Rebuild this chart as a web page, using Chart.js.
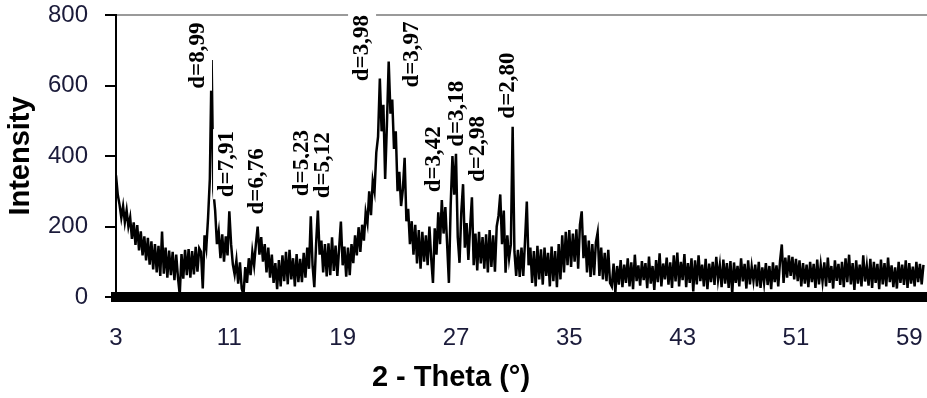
<!DOCTYPE html>
<html>
<head>
<meta charset="utf-8">
<script src="https://cdn.jsdelivr.net/npm/chart.js@4.4.1/dist/chart.umd.min.js"></script>
<style>
  html, body { margin: 0; padding: 0; background: #fff; }
</style>
</head>
<body>
<canvas id="grafico" width="927" height="398"></canvas>
<script>
// barrido 2-Theta: angulo inicial y paso entre lecturas
const thetaInicio = 3;
const thetaPaso = 0.125;

const intensidad = [
  345, 290, 262, 225, 258, 212, 246, 200,
  226, 165, 212, 148, 204, 132, 186, 118,
  172, 104, 168, 92, 158, 78, 150, 70,
  145, 60, 186, 66, 140, 55, 132, 62,
  128, 48, 120, 55, 6, 122, 52, 134,
  62, 136, 55, 130, 64, 142, 72, 138,
  128, 24, 175, 140, 225, 335, 672, 300,
  245, 150, 185, 110, 178, 100, 172, 118,
  243, 150, 92, 64, 104, 38, 98, 24,
  6, 85, 40, 110, 62, 128, 90, 150,
  200, 120, 170, 100, 150, 70, 140, 55,
  120, 40, 96, 22, 105, 30, 118, 45,
  128, 36, 134, 50, 110, 30, 122, 42,
  108, 42, 125, 55, 140, 80, 229, 90,
  28, 150, 245, 120, 160, 70, 150, 58,
  152, 62, 169, 74, 146, 60, 138, 214,
  90, 143, 58, 140, 62, 150, 96, 175,
  118, 198, 128, 205, 160, 240, 210, 300,
  232, 330, 300, 410, 455, 620, 470, 545,
  335, 490, 668, 520, 560, 420, 470, 300,
  355, 258, 305, 395, 215, 250, 150, 215,
  120, 205, 95, 190, 80, 185, 100, 175,
  90, 200, 110, 40, 195, 120, 240, 150,
  275, 180, 255, 150, 40, 260, 400, 290,
  406, 170, 97, 240, 320, 140, 210, 105,
  200, 283, 90, 180, 75, 185, 95, 170,
  80, 178, 70, 190, 85, 175, 72, 200,
  230, 291, 150, 245, 69, 175, 110, 150,
  483, 130, 60, 134, 57, 140, 60, 160,
  271, 90, 140, 40, 130, 30, 145, 50,
  135, 35, 140, 60, 125, 30, 143, 45,
  130, 28, 150, 50, 175, 70, 185, 90,
  190, 85, 180, 100, 192, 80, 205, 243,
  110, 175, 70, 160, 57, 150, 62, 155,
  183, 60, 140, 50, 125, 45, 134, 40,
  30, 95, 12, 88, 35, 105, 28, 92,
  40, 110, 30, 98, 22, 120, 45, 90,
  32, 102, 48, 96, 25, 115, 38, 88,
  20, 105, 42, 124, 30, 95, 50, 112,
  35, 98, 26, 118, 44, 126, 30, 100,
  48, 122, 28, 96, 40, 110, 16, 104,
  36, 118, 45, 92, 30, 108, 22, 95,
  42, 100, 34, 114, 50, 90, 28, 106,
  38, 96, 26, 102, 8, 98, 40, 88,
  30, 110, 44, 94, 24, 104, 36, 86,
  46, 92, 30, 100, 26, 84, 40, 96,
  34, 88, 22, 98, 42, 90, 30, 102,
  149, 40, 112, 55, 118, 60, 114, 50,
  108, 45, 104, 30, 96, 38, 92, 28,
  100, 42, 94, 26, 106, 36, 90, 44,
  98, 30, 112, 40, 88, 24, 104, 46,
  94, 34, 100, 28, 110, 42, 120, 36,
  96, 20, 104, 38, 92, 30, 118, 44,
  88, 32, 108, 26, 100, 40, 94, 22,
  106, 36, 96, 30, 112, 42, 90, 28,
  84, 24, 100, 40, 92, 34, 104, 26,
  96, 38, 86, 30, 100, 42, 94, 36,
  91
];

const ticksX = [3, 11, 19, 27, 35, 43, 51, 59];
const ticksY = [0, 200, 400, 600, 800];

// etiquetas de distancia interplanar (texto, 2-Theta y altura del pie de la etiqueta)
const picosTexto = ['d=8,99', 'd=7,91', 'd=6,76', 'd=5,23', 'd=5,12', 'd=3,98', 'd=3,97', 'd=3,42', 'd=3,18', 'd=2,98', 'd=2,80'];
const picosTheta = [8.79, 10.84, 12.96, 16.14, 17.62, 20.37, 23.9, 25.46, 27.08, 28.56, 30.68];
const picosAltura = [591, 283, 234, 286, 280, 612, 594, 297, 426, 326, 506];

const puntos = intensidad.map((v, i) => ({ x: thetaInicio + i * thetaPaso, y: v }));

// dibuja las etiquetas "d=" giradas sobre cada pico
const etiquetasPicos = {
  id: 'etiquetasPicos',
  afterDatasetsDraw(chart) {
    const { ctx, scales: { x, y } } = chart;
    ctx.save();
    ctx.font = 'bold 23px "Liberation Serif", "Times New Roman", serif';
    ctx.textAlign = 'left';
    ctx.textBaseline = 'middle';
    picosTexto.forEach((txt, i) => {
      const px = x.getPixelForValue(picosTheta[i]);
      const py = y.getPixelForValue(picosAltura[i]);
      const w = ctx.measureText(txt).width;
      ctx.save();
      ctx.translate(px, py);
      ctx.rotate(-Math.PI / 2);
      ctx.fillStyle = '#fff';
      ctx.fillRect(-2, -14, w + 4, 28);
      ctx.fillStyle = '#000';
      ctx.fillText(txt, 0, 0);
      ctx.restore();
    });
    ctx.restore();
  }
};

// titulo del eje X (en el original no esta centrado en el area)
const tituloX = {
  id: 'tituloX',
  afterDraw(chart) {
    const { ctx, chartArea } = chart;
    ctx.save();
    ctx.font = 'bold 29px "Liberation Sans", Arial, sans-serif';
    ctx.fillStyle = '#000';
    ctx.textAlign = 'center';
    ctx.textBaseline = 'middle';
    ctx.fillText('2 - Theta (°)', chartArea.left + 335, 378);
    ctx.restore();
  }
};

new Chart(document.getElementById('grafico'), {
  type: 'line',
  data: {
    datasets: [{
      data: puntos,
      borderColor: '#000',
      borderWidth: 2.5,
      pointRadius: 0,
      tension: 0,
      fill: false
    }]
  },
  options: {
    responsive: false,
    animation: false,
    devicePixelRatio: 1,
    layout: { padding: { top: 15, right: 0, left: 0, bottom: 0 } },
    plugins: {
      legend: { display: false },
      tooltip: { enabled: false }
    },
    scales: {
      x: {
        type: 'linear',
        min: 3,
        max: 60.25,
        afterBuildTicks: s => { s.ticks = ticksX.map(v => ({ value: v })); },
        afterFit: s => { s.height = 101; s.paddingLeft = 0; s.paddingRight = 0; },
        grid: { display: false, drawTicks: false },
        border: { display: true, color: '#000', width: 10 },
        ticks: {
          autoSkip: false,
          maxRotation: 0,
          padding: 27,
          color: '#1b1b3a',
          font: { family: '"Liberation Sans", Arial, sans-serif', size: 24 }
        }
      },
      y: {
        min: 0,
        max: 800,
        afterBuildTicks: s => { s.ticks = ticksY.map(v => ({ value: v })); },
        afterFit: s => { s.width = 116; s.paddingTop = 0; s.paddingBottom = 0; },
        grid: {
          color: c => (c.tick && c.tick.value === 800 ? '#9a9a9a' : 'rgba(0,0,0,0)'),
          lineWidth: 2,
          tickColor: '#000',
          tickLength: 11,
          tickWidth: 2
        },
        border: { display: true, color: '#000', width: 2 },
        ticks: {
          padding: 17,
          color: '#1b1b3a',
          font: { family: '"Liberation Sans", Arial, sans-serif', size: 24 }
        },
        title: {
          display: true,
          text: 'Intensity',
          color: '#000',
          padding: { top: 4, bottom: 0 },
          font: { family: '"Liberation Sans", Arial, sans-serif', size: 29, weight: 'bold' }
        }
      }
    }
  },
  plugins: [etiquetasPicos, tituloX]
});
</script>
</body>
</html>
